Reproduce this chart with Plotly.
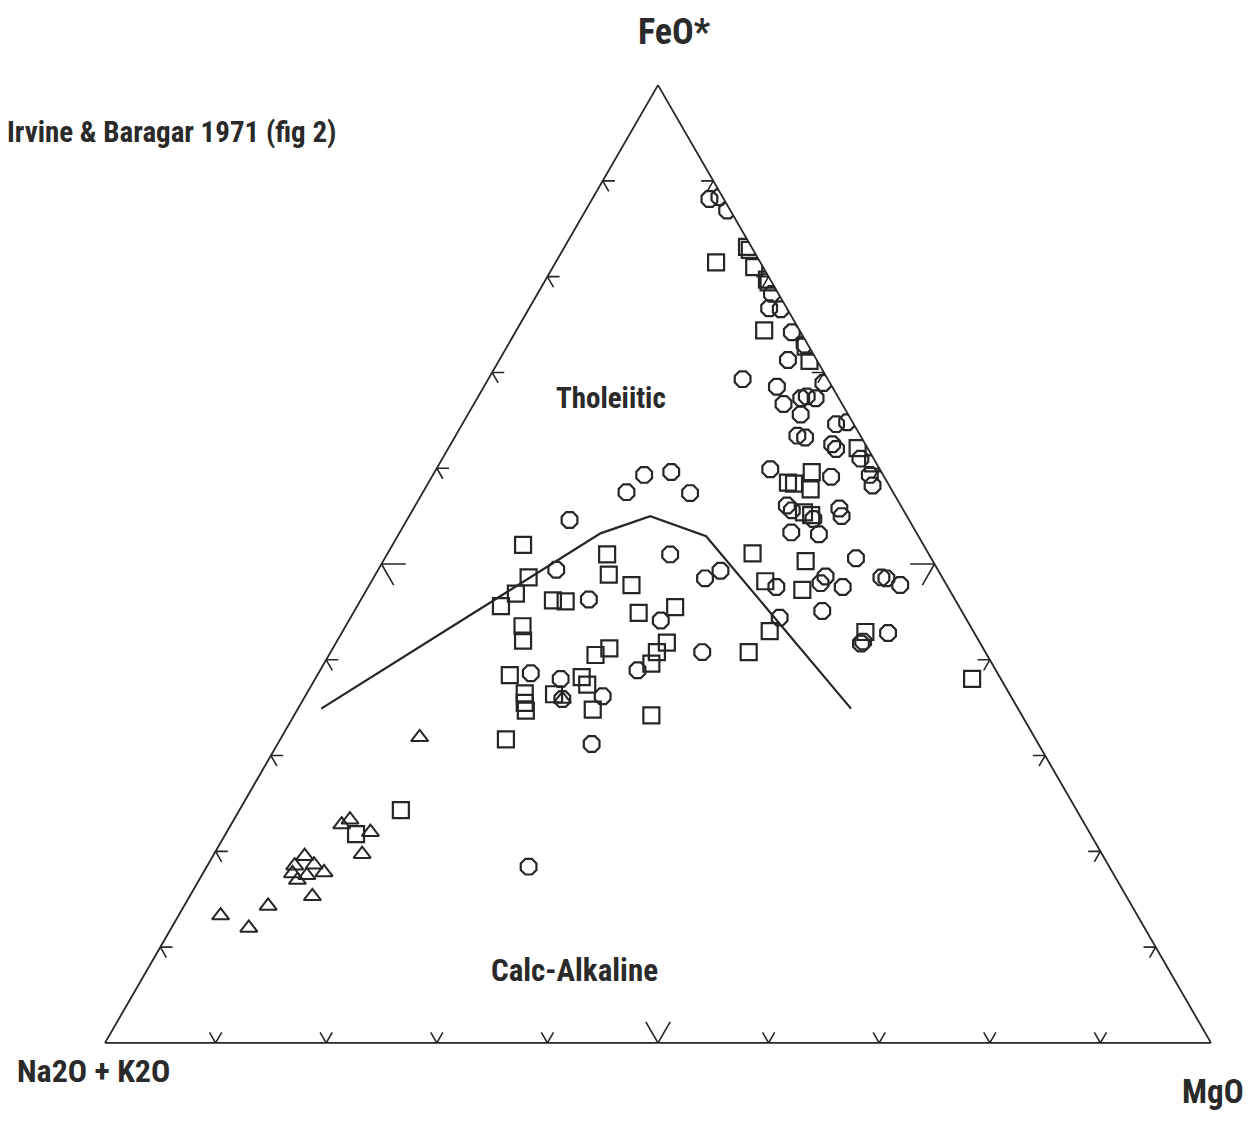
import plotly.graph_objects as go

# ---------------- data (FeO*, Na2O+K2O, MgO in %) ----------------
CIRCLE_FEO = [88.1, 88.3, 86.9, 78.2, 76.7, 76.6, 74.2, 72.9, 71.3, 69.3, 68.5, 68.9, 66.7, 67.3, 67.5, 67.3,
              65.6, 63.4, 63.2, 64.6, 64.8, 62.5, 62.0, 61.0, 59.3, 58.2, 59.9, 59.1, 56.1, 55.6, 54.7, 55.8,
              55.0, 53.3, 53.1, 50.6, 47.6, 48.0, 48.7, 47.6, 48.6, 48.5, 47.8, 44.4, 45.1, 41.7, 41.9, 42.8,
              59.3, 59.6, 57.5, 57.4, 54.6, 51.0, 49.4, 46.3, 48.5, 49.3, 44.1, 38.9, 40.8, 38.6, 38.0, 35.9,
              36.2, 31.2, 18.4]
CIRCLE_ALK = [1.3, 0.3, 0.3, 0.6, 1.6, 0.6, 0.8, 0.3, 2.6, 7.7, 5.0, 0.6, 5.3, 3.4, 2.8, 2.1,
              4.3, 5.7, 5.1, 1.6, 0.5, 3.0, 2.9, 1.2, 1.2, 1.5, 9.9, 4.8, 10.3, 10.1, 8.6, 5.7,
              5.9, 11.3, 8.9, 6.8, 15.5, 11.3, 10.5, 9.5, 5.5, 5.1, 4.2, 16.8, 12.6, 10.8, 10.5, 7.8,
              21.6, 19.0, 24.1, 18.4, 30.7, 23.4, 34.5, 33.1, 21.5, 19.7, 27.7, 32.4, 25.6, 42.2, 39.8, 40.7,
              36.9, 40.4, 52.5]
CIRCLE_MGO = [10.6, 11.4, 12.8, 21.2, 21.7, 22.8, 25.0, 26.8, 26.1, 23.0, 26.5, 30.5, 28.0, 29.3, 29.7, 30.6,
              30.1, 30.9, 31.7, 33.8, 34.7, 34.5, 35.1, 37.8, 39.5, 40.3, 30.2, 36.1, 33.6, 34.3, 36.7, 38.5,
              39.1, 35.4, 38.0, 42.6, 36.9, 40.7, 40.8, 42.9, 45.9, 46.4, 48.0, 38.8, 42.3, 47.5, 47.6, 49.4,
              19.1, 21.4, 18.4, 24.2, 14.7, 25.6, 16.1, 20.6, 30.0, 31.0, 28.2, 28.7, 33.6, 19.2, 22.2, 23.4,
              26.9, 28.4, 29.1]

SQUARE_FEO = [83.1, 82.8, 81.5, 81.0, 79.7, 79.4, 74.4, 72.7, 71.2, 62.1, 60.5, 59.6, 58.5, 58.4, 57.8, 55.4,
              55.1, 51.1, 50.3, 48.2, 47.3, 43.0, 40.8, 42.9, 38.0, 52.0, 51.0, 48.9, 48.6, 46.9, 45.6, 47.8,
              46.2, 46.1, 44.9, 45.5, 43.5, 42.0, 41.2, 40.5, 41.8, 40.8, 39.6, 38.4, 38.2, 37.4, 36.4, 36.5,
              35.5, 34.7, 34.8, 34.2, 31.7, 24.3, 21.8]
SQUARE_ALK = [0.4, 0.3, 4.0, 0.8, 0.3, 0.3, 3.2, 0.3, 0.7, 0.9, 0.3, 6.3, 9.0, 8.5, 7.3, 9.1,
              8.6, 15.9, 11.5, 16.2, 13.3, 18.4, 21.4, 9.8, 2.6, 36.2, 29.1, 30.0, 37.4, 39.4, 41.4, 28.5,
              36.4, 35.3, 29.3, 25.7, 40.5, 41.2, 33.8, 35.4, 28.3, 29.7, 30.8, 44.2, 37.8, 37.7, 41.2, 43.8,
              44.3, 44.6, 38.5, 33.5, 47.9, 61.1, 66.4]
SQUARE_MGO = [16.5, 16.9, 14.5, 18.2, 20.0, 20.3, 22.4, 27.0, 28.1, 37.0, 39.2, 34.1, 32.5, 33.1, 34.9, 35.5,
              36.3, 33.0, 38.2, 35.6, 39.4, 38.6, 37.8, 47.3, 59.4, 11.8, 19.9, 21.1, 14.0, 13.7, 13.0, 23.7,
              17.4, 18.6, 25.8, 28.8, 16.0, 16.8, 25.0, 24.1, 29.9, 29.5, 29.6, 17.4, 24.0, 24.9, 22.4, 19.7,
              20.2, 20.7, 26.7, 32.3, 20.4, 14.6, 11.8]

TRIANGLE_FEO = [31.9, 22.8, 23.3, 22.0, 19.7, 19.5, 18.5, 18.6, 17.8, 17.7, 17.0, 17.5, 15.3, 13.3, 12.0, 14.3, 35.9]
TRIANGLE_ALK = [55.6, 67.2, 66.2, 65.0, 66.9, 72.2, 73.6, 71.8, 71.3, 74.2, 74.1, 73.0, 73.6, 82.9, 81.0, 78.1, 40.7]
TRIANGLE_MGO = [12.5, 10.0, 10.5, 13.0, 13.4, 8.3, 7.9, 9.6, 10.9, 8.1, 8.9, 9.5, 11.1, 3.8, 7.0, 7.6, 23.4]

# Tholeiitic / Calc-Alkaline dividing line (Irvine & Baragar 1971)
LINE_FEO = [34.9, 53.2, 55.0, 52.9, 34.9]
LINE_ALK = [63.0, 28.6, 23.2, 19.2, 15.1]
LINE_MGO = [2.1, 18.2, 21.8, 27.9, 50.0]

TICK_VALUES = [10, 20, 30, 40, 50, 60, 70, 80, 90]
MAJOR_TICK = 50

INK = "#262626"
FONT = "Roboto Condensed, Liberation Sans Narrow, DejaVu Sans Condensed, Roboto, sans-serif"

# ---------------- chevron tick marks along the three sides ----------------
ta, tb, tc = [], [], []
for t in TICK_VALUES:
    d = 2.2 if t == MAJOR_TICK else 1.1
    # left side (MgO = 0): arms horizontal and parallel to right side
    ta += [t, t, t - d, None]
    tb += [100 - t - d, 100 - t, 100 - t, None]
    tc += [d, 0, d, None]
    # right side (Alk = 0): arms horizontal and parallel to left side
    ta += [t, t, t - d, None]
    tb += [d, 0, d, None]
    tc += [100 - t - d, 100 - t, 100 - t, None]
    # bottom side (FeO = 0): arms up-left and up-right
    ta += [d, 0, d, None]
    tb += [t - d, t, t, None]
    tc += [100 - t, 100 - t, 100 - t - d, None]

fig = go.Figure()

fig.add_trace(go.Scatterternary(a=ta, b=tb, c=tc, mode="lines",
                                line=dict(color=INK, width=1.6),
                                hoverinfo="skip", showlegend=False))

fig.add_trace(go.Scatterternary(a=LINE_FEO, b=LINE_ALK, c=LINE_MGO, mode="lines",
                                line=dict(color=INK, width=2.2), showlegend=False))

fig.add_trace(go.Scatterternary(a=CIRCLE_FEO, b=CIRCLE_ALK, c=CIRCLE_MGO, mode="markers",
                                marker=dict(symbol="octagon-open", size=17, color=INK,
                                            line=dict(color=INK, width=2.2)),
                                showlegend=False))
fig.add_trace(go.Scatterternary(a=SQUARE_FEO, b=SQUARE_ALK, c=SQUARE_MGO, mode="markers",
                                marker=dict(symbol="square-open", size=16, color=INK,
                                            line=dict(color=INK, width=2.2)),
                                showlegend=False))
fig.add_trace(go.Scatterternary(a=TRIANGLE_FEO, b=TRIANGLE_ALK, c=TRIANGLE_MGO, mode="markers",
                                marker=dict(symbol="triangle-up-open", size=15, color=INK,
                                            line=dict(color=INK, width=2)),
                                showlegend=False))

W, H = 1251, 1121
axis_style = dict(showgrid=False, showticklabels=False, ticks="", linecolor=INK,
                  linewidth=1.8, min=0, title=dict(text=""))

fig.update_layout(
    width=W, height=H,
    margin=dict(l=0, r=0, t=0, b=0),
    paper_bgcolor="white",
    showlegend=False,
    ternary=dict(
        sum=100,
        bgcolor="white",
        domain=dict(x=[105 / W, 1211 / W], y=[1 - 1043 / H, 1 - 85 / H]),
        aaxis=axis_style, baxis=axis_style, caxis=axis_style,
    ),
)

def label(text, x, y, size, xanchor="center"):
    fig.add_annotation(text=text, x=x / W, y=1 - y / H, xref="paper", yref="paper",
                       xanchor=xanchor, yanchor="middle", showarrow=False,
                       font=dict(family=FONT, size=size, color="#2a2a2a", weight="bold"))

label("Irvine &amp; Baragar 1971 (fig 2)", 5, 132, 29, xanchor="left")
label("FeO*", 674, 32, 36)
label("Na2O + K2O", 15, 1071, 32, xanchor="left")
label("MgO", 1246, 1091, 33, xanchor="right")
label("Tholeiitic", 611, 398, 29)
label("Calc-Alkaline", 574, 970, 31)

fig.write_html("out.html")
